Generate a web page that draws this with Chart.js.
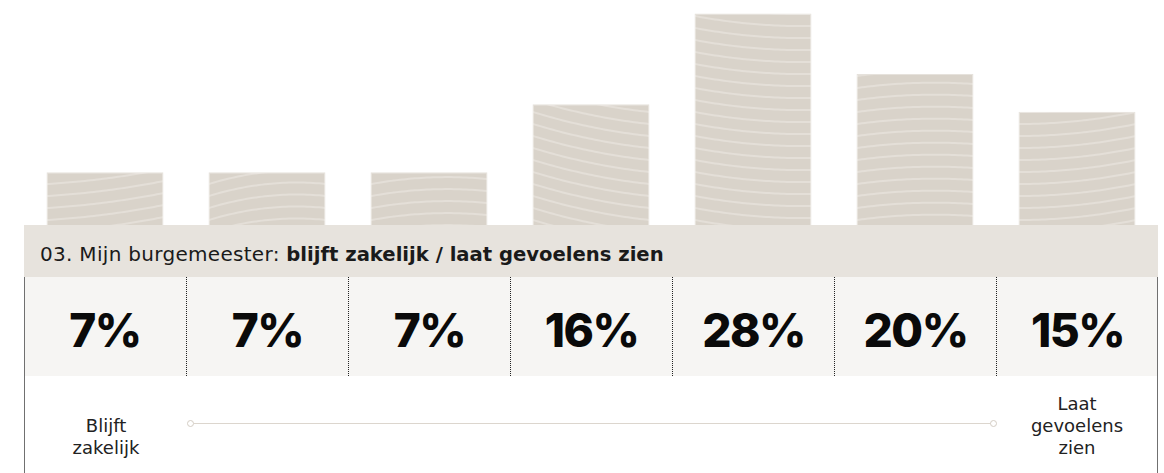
<!DOCTYPE html>
<html>
<head>
<meta charset="utf-8">
<script src="https://cdn.jsdelivr.net/npm/chart.js@4.4.1/dist/chart.umd.min.js"></script>
<style>
  html, body { margin: 0; padding: 0; }
  body { width: 1164px; height: 473px; position: relative; background: #ffffff; overflow: hidden;
         font-family: "DejaVu Sans", sans-serif; color: #1a1a1a; }
  #chartBox { position: absolute; left: 24px; top: 0; width: 1134px; height: 225px; }
  #titleBand { position: absolute; left: 24px; top: 225px; width: 1134px; height: 52px; background: #e7e3dd; }
  #titleText { position: absolute; left: 16px; top: 17px; font-size: 20px; letter-spacing: 0.3px; line-height: 24px; white-space: nowrap; color: #1a1a1a; }
  #titleText b { font-weight: 700; font-size: 19.6px; letter-spacing: 0; }
  #pctRow { position: absolute; left: 24px; top: 277px; width: 1134px; height: 99px; background: #f6f5f3; display: flex; }
  .cell { flex: 0 0 162px; height: 99px; box-sizing: border-box; display: flex; align-items: center; justify-content: center;
          font-family: Inter, sans-serif; font-weight: 800; font-size: 46px; letter-spacing: -1.5px; color: #0a0a0a; padding-top: 6px; }
  .cell + .cell { border-left: 1px dotted #222; }
  .vline { position: absolute; top: 277px; width: 1px; height: 196px; background: #707070; }
  .lbl { position: absolute; width: 140px; text-align: center; font-size: 18px; line-height: 22px; color: #222; }
  #scaleLine { position: absolute; left: 194px; top: 423px; width: 797px; height: 1px; background: #dcd6ce; }
  .dot { position: absolute; width: 5px; height: 5px; border: 1px solid #d4cdc4; border-radius: 50%; background: #fff; top: 420px; }
</style>
</head>
<body>
<div id="chartBox"><canvas id="c" width="1134" height="225"></canvas></div>
<div id="titleBand"><div id="titleText"></div></div>
<div id="pctRow"></div>
<div class="vline" style="left:24px"></div>
<div class="vline" style="left:1157px"></div>
<div id="scaleLine"></div>
<div class="dot" style="left:187px"></div>
<div class="dot" style="left:990px"></div>
<div class="lbl" id="lblLeft"></div>
<div class="lbl" id="lblRight"></div>

<script>
// ---- data ----
const categories = ["1", "2", "3", "4", "5", "6", "7"];
const values = [7, 7, 7, 16, 28, 20, 15];
const titlePrefix = "03. Mijn burgemeester: ";
const titleBold = "blijft zakelijk / laat gevoelens zien";
const leftLabel = ["Blijft", "zakelijk"];
const rightLabel = ["Laat", "gevoelens", "zien"];

// ---- grain style per bar (not data) ----
const grainSlope = [-15, -12, -5, 24, 10, -4, -12];
const grainBend = [2, -6, -4, 3, 3, -3, 3];

// ---- html parts built from data ----
document.getElementById('titleText').innerHTML = titlePrefix.replace(/ $/, '&nbsp;') + '<b>' + titleBold + '</b>';
const row = document.getElementById('pctRow');
values.forEach(v => { const d = document.createElement('div'); d.className = 'cell'; d.textContent = v + '%'; row.appendChild(d); });

function placeLabel(el, lines, centerX, lastBaseline) {
  el.innerHTML = lines.join('<br>');
  el.style.left = (centerX - 70) + 'px';
  el.style.top = (lastBaseline - 16 - 22 * (lines.length - 1)) + 'px';
}
placeLabel(document.getElementById('lblLeft'), leftLabel, 106, 453);
placeLabel(document.getElementById('lblRight'), rightLabel, 1077, 453);

// ---- grain pattern ----
let grainPattern = null;
function getGrain(chart) {
  if (grainPattern) return grainPattern;
  const xs = chart.scales.x;
  const off = document.createElement('canvas');
  off.width = chart.width; off.height = chart.height;
  const g = off.getContext('2d');
  g.fillStyle = '#d9d3ca';
  g.fillRect(0, 0, off.width, off.height);
  g.strokeStyle = '#e4dfd8';
  g.lineWidth = 2;
  const cw = xs.width / categories.length;
  categories.forEach((c, i) => {
    const cx = xs.getPixelForValue(i);
    const left = cx - cw / 2;
    g.save();
    g.beginPath(); g.rect(left, 0, cw, off.height); g.clip();
    for (let k = -6; k < 30; k++) {
      g.beginPath();
      for (let x = left - 5; x <= left + cw + 5; x += 3) {
        const u = (x - (cx - 58)) / 117;
        const y = k * 12 + 4 + grainSlope[i] * u + grainBend[i] * 4 * u * (1 - u);
        if (x === left - 5) g.moveTo(x, y); else g.lineTo(x, y);
      }
      g.stroke();
    }
    g.restore();
  });
  grainPattern = chart.ctx.createPattern(off, 'no-repeat');
  return grainPattern;
}

new Chart(document.getElementById('c'), {
  type: 'bar',
  data: {
    labels: categories,
    datasets: [{
      data: values,
      backgroundColor: (ctx) => ctx.chart.chartArea ? getGrain(ctx.chart) : '#d9d3ca',
      borderColor: '#e6e2dc',
      borderWidth: 1,
      barPercentage: 0.722,
      categoryPercentage: 1
    }]
  },
  options: {
    responsive: false,
    animation: false,
    devicePixelRatio: 1,
    layout: { padding: 0 },
    plugins: { legend: { display: false }, tooltip: { enabled: false } },
    scales: {
      x: { display: false, offset: true },
      y: { display: false, min: 0, max: 29.8 }
    }
  }
});
</script>
</body>
</html>
